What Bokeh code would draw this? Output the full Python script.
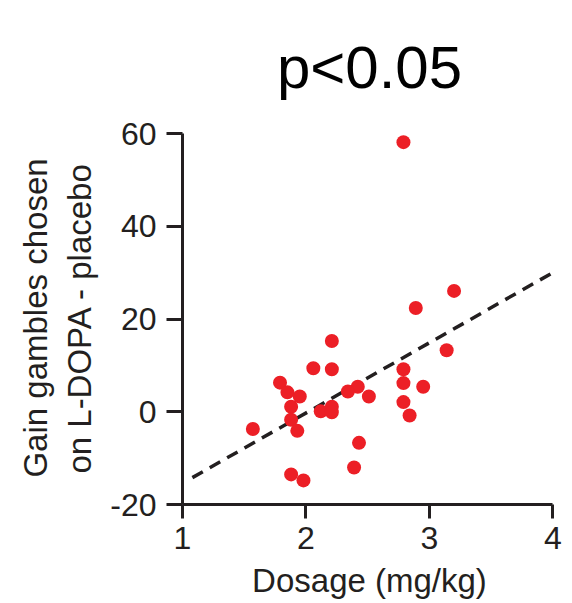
from bokeh.plotting import figure
from bokeh.models import Range1d, ColumnDataSource, PrintfTickFormatter
from bokeh.embed import file_html
from bokeh.resources import INLINE

dosage = [2.79, 3.20, 2.89, 3.14, 2.79, 2.79, 2.95, 2.79, 2.84, 2.42, 2.34, 2.51, 2.43, 2.39,
          2.21, 2.06, 2.21, 1.79, 1.85, 1.95, 1.88, 2.12, 2.21, 2.21, 1.88, 1.57, 1.93, 1.88, 1.98]
gain_diff = [58.2, 26.1, 22.4, 13.3, 9.2, 6.2, 5.4, 2.1, -0.8, 5.4, 4.4, 3.3, -6.7, -12.0,
             15.3, 9.4, 9.2, 6.3, 4.2, 3.3, 1.1, 0.1, 1.1, -0.1, -1.7, -3.7, -4.1, -13.5, -14.8]
fit_x = [1.08, 4.03]
fit_y = [-14.2, 30.5]
x_ticks = [1, 2, 3, 4]
y_ticks = [-20, 0, 20, 40, 60]
title_text = "p<0.05"

INK = "#231f20"
RED = "#ec1f26"
FONT = "Liberation Sans"

p = figure(width=572, height=603, output_backend="svg", toolbar_location=None,
           x_range=Range1d(1, 4.03), y_range=Range1d(-20, 60.5),
           min_border_left=182, min_border_right=16, min_border_top=131, min_border_bottom=99,
           title=title_text)
p.outline_line_color = None
p.grid.visible = False
p.background_fill_color = "white"
p.border_fill_color = "white"

p.title.align = "center"
p.title.offset = 4
p.title.standoff = 61
p.title.text_font = FONT
p.title.text_font_size = "60px"
p.title.text_font_style = "normal"
p.title.text_color = "black"

p.line(fit_x, fit_y, line_color=INK, line_width=3.5, line_dash="12 8")
src = ColumnDataSource(dict(x=dosage, y=gain_diff))
p.scatter("x", "y", source=src, size=14, fill_color=RED, line_color=None)

for ax in (p.xaxis[0], p.yaxis[0]):
    ax.axis_line_color = INK
    ax.axis_line_width = 3
    ax.major_tick_line_color = INK
    ax.major_tick_line_width = 3
    ax.major_tick_in = 0
    ax.minor_tick_line_color = None
    ax.major_label_text_font = FONT
    ax.major_label_text_font_size = "32px"
    ax.major_label_text_color = INK
    ax.axis_label_text_font = FONT
    ax.axis_label_text_font_size = "33px"
    ax.axis_label_text_color = INK
    ax.axis_label_text_font_style = "normal"
    ax.formatter = PrintfTickFormatter(format="%d")

p.xaxis.ticker = x_ticks
p.xaxis.bounds = (1, 4)
p.xaxis.major_tick_out = 14
p.xaxis.major_label_standoff = 8
p.xaxis.axis_label = "Dosage (mg/kg)"
p.xaxis.axis_label_standoff = 10

p.yaxis.ticker = y_ticks
p.yaxis.bounds = (-20, 60)
p.yaxis.major_tick_out = 16
p.yaxis.major_label_standoff = 10
p.yaxis.axis_label = "Gain gambles chosen\non L-DOPA - placebo"
p.yaxis.axis_label_standoff = 9

open("out.html", "w").write(file_html(p, INLINE))
